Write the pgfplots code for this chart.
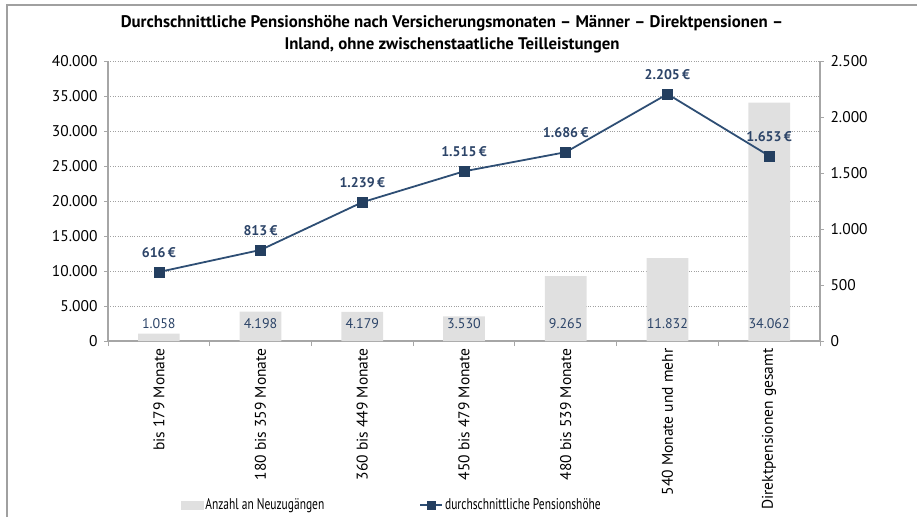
\documentclass[border=0pt]{standalone}
\usepackage{pgfplots}
\pgfplotsset{compat=1.18}
\usepackage{fontspec}
\setmainfont{PT Sans}
\newfontfamily\condfont[FakeStretch=0.74]{PT Sans}
\definecolor{barfill}{HTML}{E0E0E0}
\definecolor{linec}{HTML}{2E4E74}
\definecolor{markc}{HTML}{243F60}
\definecolor{labc}{HTML}{2C4468}
\definecolor{axc}{HTML}{A6A6A6}
\definecolor{gridc}{HTML}{A0A0A0}
\pgfplotsset{/pgf/number format/1000 sep={.}, /pgf/number format/assume math mode=true}
\pgfplotsset{linelegend/.style={legend image code/.code={\draw[mark repeat=2, mark phase=2, mark size=4pt, ##1] plot coordinates {(0pt,0pt) (11pt,0pt) (22pt,0pt)};}}}
\begin{document}
\begin{tikzpicture}[x=1pt,y=1pt]
\path[use as bounding box] (0,0) rectangle (917,517);
\draw[gridc, line width=1.6pt] (7,0) -- (7,512) -- (917,512);
\node[font=\bfseries\fontsize{16.8}{22}\selectfont, align=center] at (452,483)
  {Durchschnittliche Pensionshöhe nach Versicherungsmonaten – Männer – Direktpensionen –\\Inland, ohne zwischenstaatliche Teilleistungen};
\begin{axis}[
  at={(108pt,176pt)}, anchor=south west, scale only axis,
  width=712pt, height=280pt,
  xmin=-0.5, xmax=6.5, ymin=0, ymax=40000,
  axis y line*=left, axis x line*=bottom,
  axis line style={axc, line width=1.2pt, -},
  xtick={0,...,6},
  xticklabels={bis 179 Monate, 180 bis 359 Monate, 360 bis 449 Monate, 450 bis 479 Monate, 480 bis 539 Monate, 540 Monate und mehr, Direktpensionen gesamt},
  major x tick style={draw=none},
  minor xtick={-0.5,0.5,...,6.5},
  x tick label style={rotate=90, anchor=east, font=\fontsize{15.5}{17}\selectfont, xshift=0pt},
  ytick={0,5000,...,40000}, scaled y ticks=false,
  y tick label style={font=\fontsize{15.5}{17}\selectfont, xshift=-3pt},
  tick align=outside, tick style={axc, line width=0.9pt},
  major tick length=4pt, minor tick length=5pt,
  ymajorgrids, grid style={gridc, dotted, line width=0.9pt},
]
\addplot[ybar, bar width=0.41, fill=barfill, draw=none] coordinates {
  (0,1058) (1,4198) (2,4179) (3,3530) (4,9265) (5,11832) (6,34062)};
\addplot[only marks, mark=*, mark size=0pt, mark options={draw=none, fill=none},
  point meta=explicit,
  nodes near coords={\pgfmathprintnumber{\pgfplotspointmeta}},
  every node near coord/.style={anchor=center, font=\fontsize{14}{16}\selectfont, text=labc}]
  coordinates {(0,2450)[1058] (1,2450)[4198] (2,2450)[4179] (3,2450)[3530] (4,2450)[9265] (5,2450)[11832] (6,2450)[34062]};
\end{axis}
\begin{axis}[
  at={(108pt,176pt)}, anchor=south west, scale only axis,
  width=712pt, height=280pt,
  xmin=-0.5, xmax=6.5, ymin=0, ymax=2500,
  axis y line*=right, axis x line=none, xtick=\empty,
  axis line style={axc, line width=1.2pt, -},
  ytick={0,500,...,2500},
  y tick label style={font=\fontsize{15.5}{17}\selectfont, xshift=3pt},
  tick align=outside, tick style={axc, line width=0.9pt}, major tick length=4pt,
  legend style={at={(0.098,-0.586)}, anchor=west, draw=none, fill=none,
    legend columns=2, font=\condfont\fontsize{15.5}{17}\selectfont,
    /tikz/every even column/.append style={column sep=93pt}},
]
\addlegendimage{legend image code/.code={\fill[barfill] (0pt,-4pt) rectangle (22pt,4pt);}}
\addlegendentry{Anzahl an Neuzugängen}
\addplot[linec, line width=1.8pt, mark=square*, mark size=5pt,
  mark options={fill=markc, draw=markc, line width=0.5pt},
  linelegend,
  nodes near coords={\pgfmathprintnumber{\pgfplotspointmeta}\,€},
  every node near coord/.append style={font=\bfseries\fontsize{14}{16}\selectfont, text=labc, yshift=11pt}]
  coordinates {(0,616) (1,813) (2,1239) (3,1515) (4,1686) (5,2205) (6,1653)};
\addlegendentry{durchschnittliche Pensionshöhe}
\end{axis}
\end{tikzpicture}
\end{document}
